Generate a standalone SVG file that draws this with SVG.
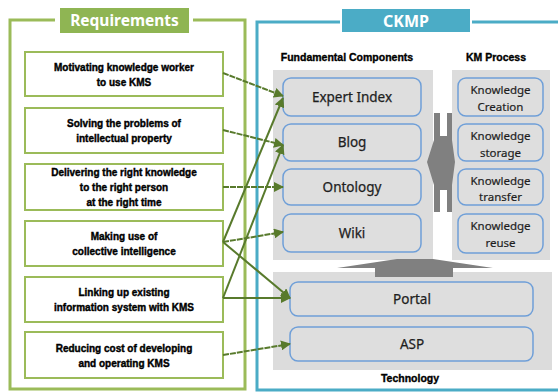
<svg xmlns="http://www.w3.org/2000/svg" width="558" height="392" viewBox="0 0 558 392">
  <style>
    .frame-g { fill: none; stroke: #9bbb59; stroke-width: 3; }
    .frame-b { fill: none; stroke: #4bacc6; stroke-width: 3; }
    .req { fill: #ffffff; stroke: #9bbb59; stroke-width: 2; }
    .req-t { font-family: "Liberation Sans", Arial, sans-serif; font-size: 10px; font-weight: bold; fill: #000; text-anchor: middle; stroke: #000; stroke-width: 0.4; }
    .panel { fill: #dcdcdc; }
    .comp { fill: #dedede; stroke: #6f9fd8; stroke-width: 1.5; }
    .comp-t { font-family: "Noto Sans", "Open Sans", sans-serif; font-size: 13.5px; fill: #1e1e1e; text-anchor: middle; stroke: #1e1e1e; stroke-width: 0.25; }
    .km-t { font-family: "Noto Sans", "Open Sans", sans-serif; font-size: 11.5px; fill: #1e1e1e; text-anchor: middle; stroke: #1e1e1e; stroke-width: 0.2; }
    .head { font-family: "Liberation Sans", Arial, sans-serif; font-size: 10.5px; font-weight: bold; fill: #000; text-anchor: middle; stroke: #000; stroke-width: 0.35; }
    .title { font-family: "Noto Sans", "Open Sans", sans-serif; font-weight: bold; fill: #ffffff; text-anchor: middle; }
    .c { fill: none; stroke: #587a2c; stroke-width: 2; marker-end: url(#ah); }
    .dash { stroke-dasharray: 6 1; }
    .shape { fill: #808080; }
  </style>
  <defs>
    <marker id="ah" viewBox="0 0 10 10" refX="9" refY="5" markerWidth="5" markerHeight="5" orient="auto" markerUnits="strokeWidth">
      <path d="M0,0 L10,5 L0,10 z" fill="#587a2c"/>
    </marker>
  </defs>

  <rect width="558" height="392" fill="#ffffff"/>

  <!-- Requirements frame -->
  <g id="requirements-frame">
    <path class="frame-g" d="M55,20 H10 V389 H245 V20 H193"/>
    <rect x="60" y="8" width="129" height="25" fill="#8fb553"/>
    <text class="title" x="124.5" y="26" font-size="15.5">Requirements</text>
  </g>

  <!-- CKMP frame -->
  <g id="ckmp-frame">
    <path class="frame-b" d="M340,22 H257 V390 H560 M472,22 H560"/>
    <rect x="342" y="9" width="128" height="23" fill="#4bacc6"/>
    <text class="title" x="406" y="27" font-size="16">CKMP</text>
  </g>

  <!-- Requirement boxes -->
  <g id="req1">
    <rect class="req" x="25" y="52" width="198" height="44"/>
    <text class="req-t" x="124" y="71">Motivating knowledge worker</text>
    <text class="req-t" x="124" y="86">to use KMS</text>
  </g>
  <g id="req2">
    <rect class="req" x="25" y="108" width="198" height="45"/>
    <text class="req-t" x="124" y="127">Solving the problems of</text>
    <text class="req-t" x="124" y="142">intellectual property</text>
  </g>
  <g id="req3">
    <rect class="req" x="25" y="164" width="198" height="46"/>
    <text class="req-t" x="124" y="176">Delivering the right knowledge</text>
    <text class="req-t" x="124" y="191">to the right person</text>
    <text class="req-t" x="124" y="206">at the right time</text>
  </g>
  <g id="req4">
    <rect class="req" x="25" y="221" width="198" height="45"/>
    <text class="req-t" x="124" y="240">Making use of</text>
    <text class="req-t" x="124" y="255">collective intelligence</text>
  </g>
  <g id="req5">
    <rect class="req" x="25" y="277" width="198" height="45"/>
    <text class="req-t" x="124" y="296">Linking up existing</text>
    <text class="req-t" x="124" y="311">information system with KMS</text>
  </g>
  <g id="req6">
    <rect class="req" x="25" y="332" width="198" height="46"/>
    <text class="req-t" x="124" y="352">Reducing cost of developing</text>
    <text class="req-t" x="124" y="367">and operating KMS</text>
  </g>

  <!-- Section headings -->
  <text class="head" x="347" y="61">Fundamental Components</text>
  <text class="head" x="496" y="61">KM Process</text>
  <text class="head" x="410" y="382">Technology</text>

  <!-- Panels -->
  <rect class="panel" x="273" y="70" width="160" height="190"/>
  <rect class="panel" x="452" y="70" width="98" height="190"/>
  <rect class="panel" x="273" y="272" width="279" height="98"/>

  <!-- Two-way arrow between components and KM process -->
  <polygon class="shape" points="434,113 440,113 440,136 447,136 447,113 452,113 452,140 455,162 452,185 452,212 447,212 447,190 440,190 440,212 434,212 434,185 427,162 434,140"/>

  <!-- Upward arrow from technology -->
  <polygon class="shape" points="337,268 397,259 433,259 493,268 453,268 453,277 375,277 375,268"/>

  <!-- Fundamental components -->
  <g id="expert-index">
    <rect class="comp" x="283" y="78" width="138" height="38" rx="8"/>
    <text class="comp-t" x="352" y="102">Expert Index</text>
  </g>
  <g id="blog">
    <rect class="comp" x="283" y="124" width="138" height="37" rx="8"/>
    <text class="comp-t" x="352" y="147">Blog</text>
  </g>
  <g id="ontology">
    <rect class="comp" x="283" y="169" width="138" height="36" rx="8"/>
    <text class="comp-t" x="352" y="192">Ontology</text>
  </g>
  <g id="wiki">
    <rect class="comp" x="283" y="214" width="138" height="38" rx="8"/>
    <text class="comp-t" x="352" y="238">Wiki</text>
  </g>

  <!-- KM process -->
  <g id="km-creation">
    <rect class="comp" x="458" y="78" width="85" height="38" rx="8"/>
    <text class="km-t" x="500.5" y="94">Knowledge</text>
    <text class="km-t" x="500.5" y="111">Creation</text>
  </g>
  <g id="km-storage">
    <rect class="comp" x="458" y="124" width="85" height="37" rx="8"/>
    <text class="km-t" x="500.5" y="140">Knowledge</text>
    <text class="km-t" x="500.5" y="157">storage</text>
  </g>
  <g id="km-transfer">
    <rect class="comp" x="458" y="169" width="85" height="36" rx="8"/>
    <text class="km-t" x="500.5" y="185">Knowledge</text>
    <text class="km-t" x="500.5" y="201">transfer</text>
  </g>
  <g id="km-reuse">
    <rect class="comp" x="458" y="214" width="85" height="39" rx="8"/>
    <text class="km-t" x="500.5" y="230">Knowledge</text>
    <text class="km-t" x="500.5" y="247">reuse</text>
  </g>

  <!-- Technology -->
  <g id="portal">
    <rect class="comp" x="290" y="282" width="243" height="34" rx="8"/>
    <text class="comp-t" x="412" y="304" font-size="14.5">Portal</text>
  </g>
  <g id="asp">
    <rect class="comp" x="290" y="327" width="243" height="34" rx="8"/>
    <text class="comp-t" x="412" y="349" font-size="14.5">ASP</text>
  </g>

  <!-- Connectors -->
  <g id="connectors">
    <line class="c dash" x1="223" y1="73" x2="283" y2="96"/>
    <line class="c dash" x1="223" y1="130" x2="283" y2="145"/>
    <line class="c dash" x1="223" y1="187" x2="283" y2="187"/>
    <line class="c dash" x1="223" y1="242" x2="283" y2="232"/>
    <line class="c" x1="223" y1="242" x2="283" y2="98"/>
    <line class="c" x1="223" y1="298" x2="283" y2="145"/>
    <line class="c" x1="223" y1="242" x2="290" y2="298"/>
    <line class="c" x1="223" y1="298" x2="290" y2="298"/>
    <line class="c dash" x1="223" y1="355" x2="290" y2="344"/>
  </g>
</svg>
